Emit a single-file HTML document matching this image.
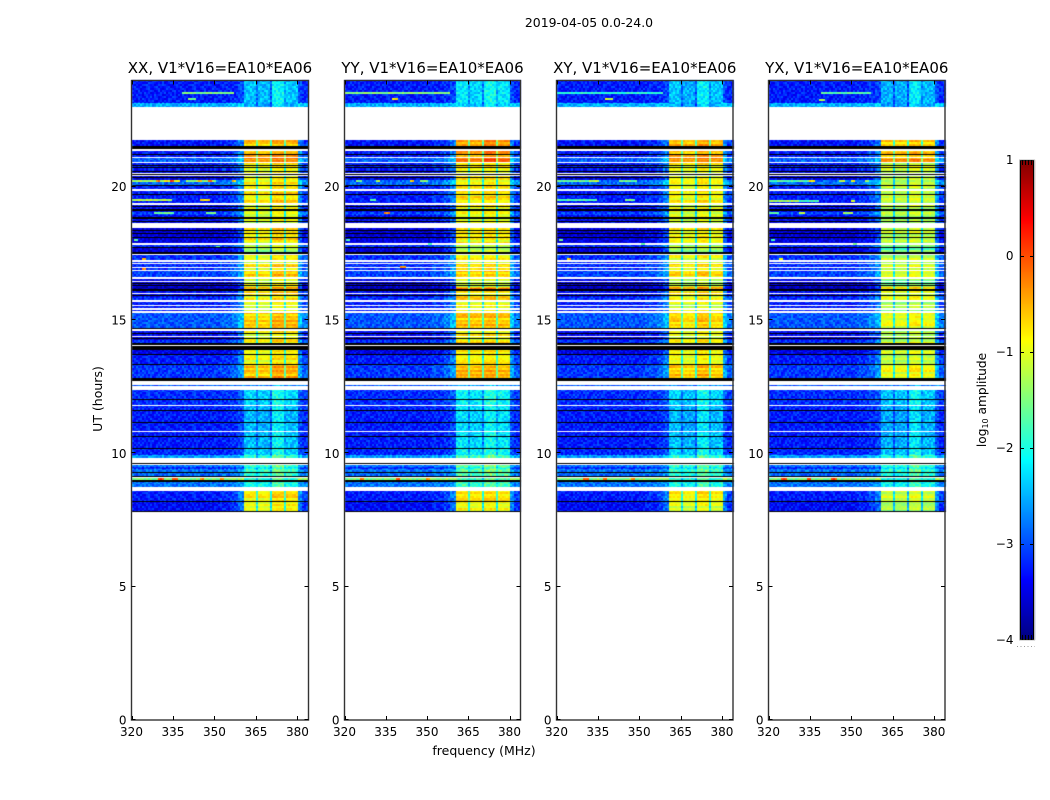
<!DOCTYPE html>
<html lang="en">
<head>
<meta charset="utf-8">
<title>2019-04-05 spectrogram</title>
<style>
html,body{margin:0;padding:0;background:#fff}
#figure{position:relative;width:1050px;height:800px;overflow:hidden;background:#fff}
canvas,svg{position:absolute;left:0;top:0}
text{font-family:"DejaVu Sans","Liberation Sans",sans-serif;fill:#000}
</style>
</head>
<body>
<div id="figure">
<canvas id="cv0" width="1050" height="800"></canvas>
<canvas id="cv1" width="1050" height="800"></canvas>
<canvas id="cv2" width="1050" height="800"></canvas>
<canvas id="cv3" width="1050" height="800"></canvas>
<canvas id="cvbar" width="1050" height="800"></canvas>
<svg id="axes" width="1050" height="800" viewBox="0 0 1050 800">
<text x="589" y="27" font-size="12.45" text-anchor="middle">2019-04-05 0.0-24.0</text>
<text x="484" y="755" font-size="12.5" text-anchor="middle">frequency (MHz)</text>
<text transform="translate(102,399) rotate(-90)" font-size="12.5" text-anchor="middle">UT (hours)</text>
<text transform="translate(986,400) rotate(-90)" font-size="12.2" text-anchor="middle">log<tspan font-size="8" dy="2">10</tspan><tspan dy="-2"> amplitude</tspan></text>
</svg>
</div>
<script>
// ---------- chart data ----------
const panelTitles = ["XX, V1*V16=EA10*EA06","YY, V1*V16=EA10*EA06","XY, V1*V16=EA10*EA06","YX, V1*V16=EA10*EA06"];
const xTickValues = [320,335,350,365,380];
const yTickValues = [0,5,10,15,20];
const colorbarTicks = [1,0,-1,-2,-3,-4];
const FLAG = -9;
// [low UT hour, high UT hour, background log10 amp, band log10 amp]
const timeBlocks = [
[23.14,24,-3.25,-2.1],[22.99,23.14,-2.5,-2.2],
[21.53,21.75,-3.3,-0.55],[21.41,21.53,FLAG,FLAG],[21.11,21.34,-3.25,-0.5],[20.93,21.08,-2.9,-0.3],
[20.63,20.89,-3.25,-0.8],[20.51,20.63,-3.35,-0.9],[20.25,20.40,-3.45,-0.85],[20.06,20.25,-2.85,-0.85],
[19.91,20.06,-3.25,-0.85],[19.39,19.84,-3.25,-0.8],[19.05,19.31,-3.35,-0.95],[18.94,19.05,-3.05,-0.95],
[18.64,18.94,-3.35,-1.0],[18.0,18.45,-3.55,-0.8],[17.89,18.0,-3.5,-0.9],[17.74,17.81,-3.15,-1.2],
[17.55,17.74,-3.55,-1.3],[17.48,17.55,FLAG,FLAG],[17.25,17.44,-3.15,-0.9],[17.12,17.19,-3.15,-1.0],
[16.99,17.10,-3.15,-0.7],[16.89,16.95,-3.15,-0.8],[16.61,16.84,-3.05,-0.65],[16.46,16.54,-3.45,-1.1],
[16.24,16.43,-3.55,-1.1],[16.16,16.24,-3.75,-0.4],[16.09,16.16,FLAG,FLAG],[16.01,16.09,-3.35,-0.7],
[15.86,15.98,-3.35,-0.9],[15.75,15.86,-3.15,-0.7],[15.58,15.69,-3.25,-1.0],[15.45,15.53,-3.25,-1.0],
[15.34,15.39,-3.25,-1.0],[14.70,15.28,-2.95,-0.6],[14.65,14.70,FLAG,FLAG],[14.40,14.59,-3.35,-0.9],
[14.25,14.36,-3.55,-1.0],[14.14,14.25,-3.15,-0.75],[14.06,14.14,FLAG,FLAG],[13.88,14.01,FLAG,FLAG],
[13.73,13.88,-3.45,-0.8],[13.35,13.73,-3.25,-0.85],[12.83,13.35,-3.1,-0.55],[12.71,12.83,FLAG,FLAG],
[12.53,12.56,-2.95,-2.4],[11.81,12.38,-3.15,-2.0],[11.63,11.78,-3.2,-2.1],[11.18,11.59,-3.25,-2.15],
[10.84,11.14,-3.25,-2.15],[10.65,10.80,-3.25,-2.1],[10.20,10.61,-3.25,-2.1],[9.94,10.16,-3.2,-2.0],
[9.84,9.94,-2.6,-1.6],[9.60,9.64,-3.25,-2.3],[9.30,9.56,-2.8,-1.5],[9.43,9.47,-3.15,-1.8],
[9.15,9.26,-2.85,-1.6],[9.0,9.09,-1.5,-1.6],[8.93,9.0,FLAG,FLAG],[8.74,8.93,-2.8,-1.7],
[8.21,8.59,-3.25,-0.75],[7.84,8.18,-3.35,-0.95]
];
// thin flagged (black) integrations, UT hour
const flaggedHours = [21.19,20.81,20.7,20.55,20.46,20.35,20.04,19.7,19.26,19.15,19.11,18.86,18.8,18.69,18.34,18.23,18.08,17.72,16.38,16.31,15.9,14.49,14.29,13.71,13.33,12.02,11.61,11.16,10.63,10.18,9.6,9.28,9.12,8.19,7.81];
// [start MHz, end MHz, source ("bg" or band 0..3), level offset]
const channelSegments = [
[320,352,"bg",0],[352,356,"bg",0.1],[356,358.5,"bg",0.25],[358.5,360.4,"bg",0.5],
[360.4,365,0,0],[365,365.7,0,-1.1],[365.7,370.2,1,0],[370.2,370.9,1,-1.2],
[370.9,375.4,2,0],[375.4,376.1,2,-1.2],[376.1,380.2,3,0],[380.2,382,"bg",0.6],[382,384,"bg",0.2]
];
const xxBandDay = [-0.05,-0.1,0.12,0.05];
const yyBandDay = [0.05,0,0.08,0];
const xyBandDay = [-0.05,-0.15,0.05,-0.1];
const yxBandDay = [-0.35,-0.4,-0.25,-0.35];
const xxBandEvening = [0,-0.05,0.1,0.05];
const yyBandEvening = [0.05,0,0.25,0.1];
const xyBandEvening = [0,-0.05,0.1,0];
const yxBandEvening = [-0.1,-0.1,0,-0.1];
const xxBandNight = [-0.3,-0.35,0,-0.3];
const yyBandNight = [-0.1,-0.2,0.05,-0.1];
const xyBandNight = [-0.3,-0.4,-0.05,-0.3];
const yxBandNight = [-0.4,-0.4,-0.1,-0.35];
// [UT hour, start MHz, end MHz, log10 amp]
const xxInterference = [
[23.5,338.6,356.8,-1.5],[23.3,341,343,-1.6],[20.2,320,332,-1.3],[20.2,332,337,-0.9],[20.2,340,350,-1.4],
[20.2,329,329.8,-0.2],[20.2,334,334.8,0],[20.2,344,345,-0.5],[20.2,348,348.8,-0.2],[20.2,356.5,357.3,-0.6],
[19.5,320,334,-1.2],[19.5,345,348,-0.7],[19.0,328,335,-1.6],[19.0,347,350,-1.6],[17.3,324,324.7,-0.5],[16.9,324,324.7,-0.4],
[18.0,321,322,-1.7],[17.75,351,351.7,-1.6],[9.05,330,331,0],[9.05,335,336,0.1],[9.05,345,346,-0.3],[9.05,352,353,-0.2]
];
const yyInterference = [
[23.5,320,358,-1.45],[23.27,338,339.4,-0.7],[20.2,325,326,-1.6],[20.2,332,333,-1.3],[20.2,344,345,-0.6],[20.2,348,350,-1.5],
[19.5,330,331,-1.8],[19.0,335,336,-0.3],[17.0,341,342,-0.3],[18.0,321,322,-1.7],[17.85,351,351.7,-1.6],
[9.05,326,327,-0.2],[9.05,339,340,0],[9.05,350,351,-0.3]
];
const xyInterference = [
[23.5,320,358,-1.9],[23.27,338,340,-1.1],[20.2,320,332,-1.6],[20.2,332,335,-1.2],[20.2,343,349,-1.6],
[19.5,320,334,-1.7],[19.5,345,348,-1.5],[17.3,324,324.7,-0.6],[18.0,321,322,-1.7],[17.85,351,351.7,-1.6],
[9.05,330,331,-0.1],[9.05,337,338,0],[9.05,347,348,-0.3]
];
const yxInterference = [
[23.5,339,357,-1.7],[23.25,338.6,340,-1.2],[20.2,320,335,-1.7],[20.2,335,336,-0.8],[20.2,346,347,-1.1],[20.2,350,351,-0.9],[20.2,355,356,-1.2],
[19.46,320,331,-1.3],[19.46,331,338,-1.8],[19.46,350,351,-1.0],[19.0,320,323,-1.7],[19.0,331,333,-1.1],[19.0,347,350,-1.3],
[17.3,324,324.7,-0.8],[18.0,321,322,-1.7],[17.85,351,351.7,-1.6],
[9.05,325,326,0],[9.05,334,335,0.1],[9.05,343,344,0]
];
// literal speckle offsets (digit 0..9) read as typical cell-to-cell scatter
const speckleTile = [
"38162059471392648017253","50729416380275913864120","17493825064138092751634",
"92045371869204617385029","46180952734681530297461","03576218491750368142985",
"81924067352946701538260","25368194702513849076173","74091532686029175340892",
"16850347921468203957514","59237106843791524680237","40612789535038697412068",
"87354120976425180359741","23905648117863492071356","61478053294107356928405",
"95026371840532718694130","34781965203849026175692"
];
// typical row-to-row brightness scatter of the bands
const rowScatter = [0.05,-0.1,0.15,0,-0.18,0.1,0.2,-0.05,-0.15,0.08,0.22,-0.2,0,0.12,-0.08,0.18,-0.12,0.03,-0.22,0.14,0.06,-0.02,-0.14];
// ---------- geometry and scales ----------
const panelFrames = [[131.5,308.5],[344.5,520.5],[556.5,733],[768.5,945]];
const bandDay = [xxBandDay,yyBandDay,xyBandDay,yxBandDay];
const bandEvening = [xxBandEvening,yyBandEvening,xyBandEvening,yxBandEvening];
const bandNight = [xxBandNight,yyBandNight,xyBandNight,yxBandNight];
const interference = [xxInterference,yyInterference,xyInterference,yxInterference];
const rowStep = 0.075, chanStep = 0.727;
function xScale(p,mhz){return panelFrames[p][0]+(mhz-320)/64*(panelFrames[p][1]-panelFrames[p][0]);}
function yScale(h){return 720-h*640/24;}
function clamp(a){return Math.max(0,Math.min(1,a));}
function jet(v){
  if(v<=-8) return "rgb(0,0,0)";
  const t=clamp((v+4)/5);
  const r=clamp(1.5-Math.abs(4*t-3)),g=clamp(1.5-Math.abs(4*t-2)),b=clamp(1.5-Math.abs(4*t-1));
  return "rgb("+Math.round(r*255)+","+Math.round(g*255)+","+Math.round(b*255)+")";
}
function speckle(r,c,p){
  const row=speckleTile[(r+p*5+1700)%17];
  return (row.charCodeAt((c+p*9)%23)-48-4.5)*0.06;
}
function segmentAt(m){
  for(const s of channelSegments){ if(m>=s[0]&&m<s[1]) return s; }
  return channelSegments[channelSegments.length-1];
}
function cellLevel(block,m,r,c,p){
  if(block[2]===FLAG) return FLAG;
  const s=segmentAt(m);
  const night=block[3]<-1.45;
  const fade=night?0.4:1;
  if(s[2]==="bg") return block[2]+s[3]*fade+speckle(r,c,p);
  const table=night?bandNight[p]:(block[0]>20.9?bandEvening[p]:bandDay[p]);
  const spread=night?1:0.4;
  return block[3]+table[s[2]]+s[3]*fade+speckle(r,c,p)*spread+(night?0:rowScatter[(r+p*2)%23]);
}
function paintCell(ctx,p,m,lowH,highH,level){
  const x0=Math.round(xScale(p,m)),x1=Math.round(xScale(p,Math.min(384,m+chanStep)));
  const y0=Math.round(yScale(highH));
  const y1=Math.max(y0+1,Math.round(yScale(lowH)));
  ctx.fillStyle=jet(level);
  ctx.fillRect(x0,y0,Math.max(1,x1-x0),y1-y0);
}
// ---------- heatmaps ----------
for(let p=0;p<4;p++){
  const ctx=document.getElementById("cv"+p).getContext("2d");
  for(const block of timeBlocks){
    const rStart=Math.floor(block[0]/rowStep),rEnd=Math.ceil(block[1]/rowStep);
    for(let r=rStart;r<rEnd;r++){
      const low=Math.max(block[0],r*rowStep),high=Math.min(block[1],(r+1)*rowStep);
      if(high<=low) continue;
      for(let c=0;c*chanStep<64;c++){
        const m=320+c*chanStep;
        paintCell(ctx,p,m,low,high,cellLevel(block,m+chanStep/2,r,c,p));
      }
    }
  }
  for(const line of interference[p]){
    const cStart=Math.floor((line[1]-320)/chanStep),cEnd=Math.ceil((line[2]-320)/chanStep);
    const r=Math.floor(line[0]/rowStep);
    for(let c=cStart;c<cEnd;c++){
      paintCell(ctx,p,320+c*chanStep,line[0]-rowStep/2,line[0]+rowStep/2,line[3]+speckle(r,c,p)*0.7);
    }
  }
  for(const h of flaggedHours){
    ctx.fillStyle="#000";
    const y=Math.round(yScale(h+0.02));
    ctx.fillRect(Math.round(xScale(p,320)),y,Math.round(xScale(p,384)-xScale(p,320)),1);
  }
}
// ---------- colorbar ----------
const barLeft=1019.5,barRight=1034.5,barTop=160,barBottom=640;
function barY(v){return barBottom-(v+4)/5*(barBottom-barTop);}
(function(){
  const ctx=document.getElementById("cvbar").getContext("2d");
  for(let y=barTop;y<barBottom;y++){
    const v=-4+(barBottom-y-0.5)/(barBottom-barTop)*5;
    ctx.fillStyle=jet(v);
    ctx.fillRect(1020,y,15,1);
  }
})();
// ---------- axes ----------
const NS="http://www.w3.org/2000/svg";
const svg=document.getElementById("axes");
function line(x1,y1,x2,y2,stroke){
  const el=document.createElementNS(NS,"line");
  el.setAttribute("x1",x1);el.setAttribute("y1",y1);el.setAttribute("x2",x2);el.setAttribute("y2",y2);
  el.setAttribute("stroke",stroke);el.setAttribute("stroke-width","1");
  svg.appendChild(el);
  return el;
}
function label(x,y,str,anchor,size){
  const el=document.createElementNS(NS,"text");
  el.setAttribute("x",x);el.setAttribute("y",y);el.setAttribute("text-anchor",anchor);el.setAttribute("font-size",size);
  el.textContent=str;
  svg.appendChild(el);
  return el;
}
for(let p=0;p<4;p++){
  const L=panelFrames[p][0],R=panelFrames[p][1];
  const frame=document.createElementNS(NS,"rect");
  frame.setAttribute("x",L);frame.setAttribute("y",80.5);frame.setAttribute("width",R-L);frame.setAttribute("height",639.5);
  frame.setAttribute("fill","none");frame.setAttribute("stroke","#333");frame.setAttribute("stroke-width","1.4");
  
  
  svg.appendChild(frame);
  const title=label((L+R)/2,73,panelTitles[p],"middle","15");
  
  
  for(const v of xTickValues){
    const x=Math.round(xScale(p,v))+0.5;
    const t1=line(x,720,x,716,"#000");
    
    
    const t2=line(x,80.5,x,84.5,"#000");
    
    
    const tl=label(xScale(p,v),736,String(v),"middle","12");
    
    
  }
  for(const v of yTickValues){
    const y=Math.round(yScale(v))-0.5;
    const t1=line(L,y,L+4,y,"#000");
    
    
    const t2=line(R,y,R-4,y,"#000");
    
    
    const tl=label(L-5,yScale(v)+4.5,String(v),"end","12");
    
    
  }
}
const barFrame=document.createElementNS(NS,"rect");
barFrame.setAttribute("x",barLeft);barFrame.setAttribute("y",barTop);barFrame.setAttribute("width",barRight-barLeft);barFrame.setAttribute("height",barBottom-barTop);
barFrame.setAttribute("fill","none");barFrame.setAttribute("stroke","#bbb");barFrame.setAttribute("stroke-width","1");


svg.appendChild(barFrame);
line(1020.5,barTop,1020.5,barBottom,"#000");
line(1033.5,barTop,1033.5,barBottom,"#000");
line(1020,barTop+0.5,1034,barTop+0.5,"#222");
line(1020,barBottom-0.5,1034,barBottom-0.5,"#222");
for(const v of colorbarTicks){
  const y=Math.round(barY(v))+0.5;
  if(v!==1&&v!==-4){
    line(1020,y,1024,y,"#000");
    line(1030,y,1034,y,"#000");
  }
  const tl=label(1013.5,barY(v)+4,v<0?"\u2212"+Math.abs(v):String(v),"end","12");
  
  
}
for(const x of [1022.5,1025.5,1028.5,1031.5]){
  line(x,barTop,x,barTop+5,"#000");
  line(x,barBottom,x,barBottom-5,"#000");
}
const dots=line(1017,646.5,1035,646.5,"#999");
dots.setAttribute("stroke-dasharray","1 2.5");


</script>
</body>
</html>
